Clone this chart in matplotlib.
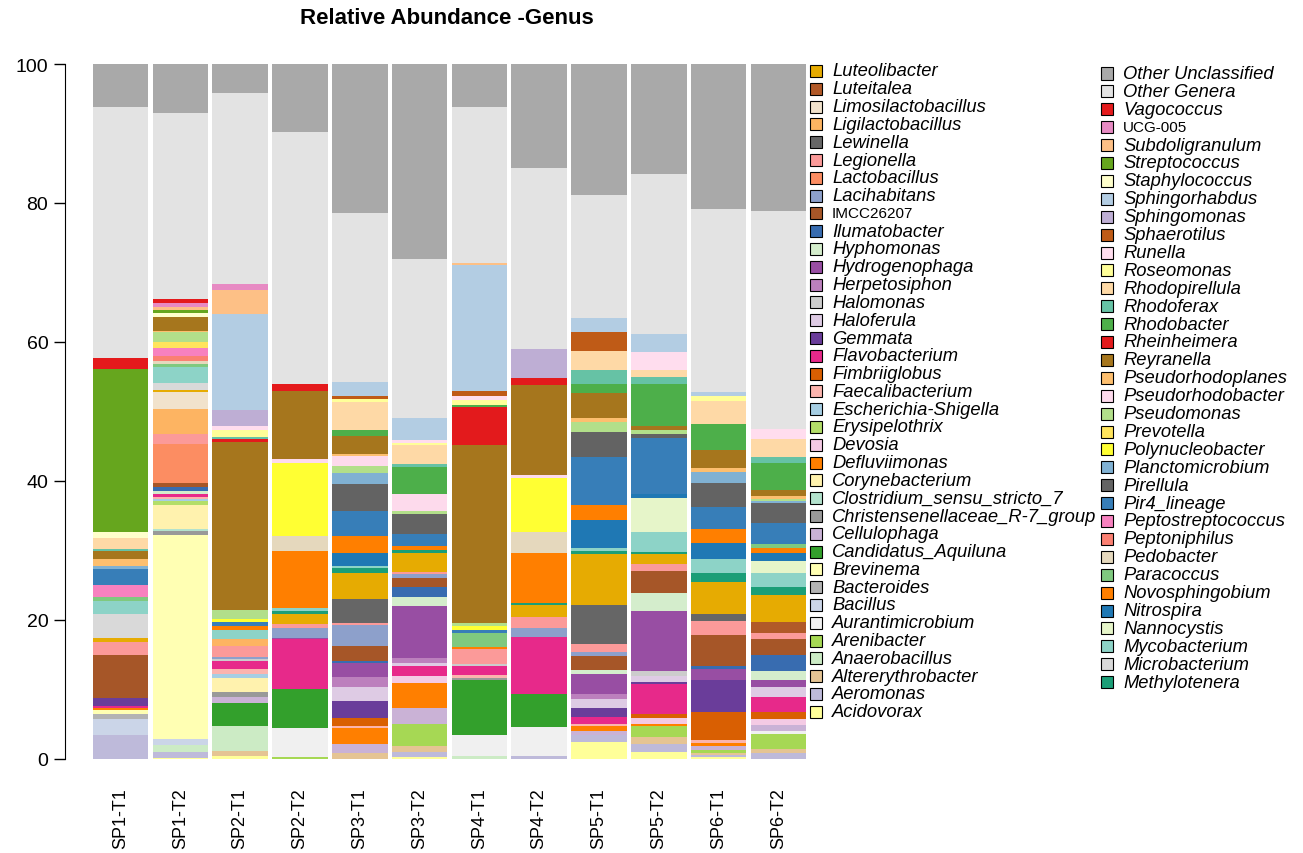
import matplotlib
matplotlib.use("Agg")
import numpy as np
import matplotlib.pyplot as plt
from matplotlib.patches import Rectangle

plt.rcParams['font.family'] = ['Liberation Sans', 'DejaVu Sans']

# genera, bottom of the stack first
genera = ["Acidovorax", "Aeromonas", "Altererythrobacter", "Anaerobacillus", "Arenibacter",
          "Aurantimicrobium", "Bacillus", "Bacteroides", "Brevinema", "Candidatus_Aquiluna",
          "Cellulophaga", "Christensenellaceae_R-7_group", "Clostridium_sensu_stricto_7",
          "Corynebacterium", "Defluviimonas", "Devosia", "Erysipelothrix", "Escherichia-Shigella",
          "Faecalibacterium", "Fimbriiglobus", "Flavobacterium", "Gemmata", "Haloferula",
          "Halomonas", "Herpetosiphon", "Hydrogenophaga", "Hyphomonas", "Ilumatobacter",
          "IMCC26207", "Lacihabitans", "Lactobacillus", "Legionella", "Lewinella",
          "Ligilactobacillus", "Limosilactobacillus", "Luteitalea", "Luteolibacter",
          "Methylotenera", "Microbacterium", "Mycobacterium", "Nannocystis", "Nitrospira",
          "Novosphingobium", "Paracoccus", "Pedobacter", "Peptoniphilus", "Peptostreptococcus",
          "Pir4_lineage", "Pirellula", "Planctomicrobium", "Polynucleobacter", "Prevotella",
          "Pseudomonas", "Pseudorhodobacter", "Pseudorhodoplanes", "Reyranella", "Rheinheimera",
          "Rhodobacter", "Rhodoferax", "Rhodopirellula", "Roseomonas", "Runella", "Sphaerotilus",
          "Sphingomonas", "Sphingorhabdus", "Staphylococcus", "Streptococcus", "Subdoligranulum",
          "UCG-005", "Vagococcus", "Other Genera", "Other Unclassified"]

colors = ["#FFFF99", "#BEBADA", "#E5C494", "#CCEBC5", "#A6D854",
          "#F0F0F0", "#CBD5E8", "#B3B3B3", "#FFFFB3", "#33A02C",
          "#CAB2D6", "#999999", "#B3E2CD",
          "#FFF2AE", "#FF7F00", "#F4CAE4", "#B3DE69", "#A6CEE3",
          "#FBB4AE", "#D95F02", "#E7298A", "#6A3D9A", "#DECBE4",
          "#CCCCCC", "#BC80BD", "#984EA3", "#D4EDCC", "#386CB0",
          "#A65628", "#8DA0CB", "#FC8D62", "#FB9A99", "#666666",
          "#FDB462", "#F1E2CC", "#B15928", "#E6AB02",
          "#1B9E77", "#D9D9D9", "#8DD3C7", "#E6F5C9", "#1F78B4",
          "#FF7F00", "#7FC97F", "#E5D8BD", "#FB8072", "#F781BF",
          "#377EB8", "#636363", "#80B1D3", "#FFFF33", "#FFE45C",
          "#B2DF8A", "#FDDAEC", "#FDBF6F", "#A6761D", "#E31A1C",
          "#4DAF4A", "#66C2A5", "#FED9A6", "#FFFF99", "#FFDDEE", "#BF5B17",
          "#BEAED4", "#B3CDE3", "#FFFFCC", "#66A61E", "#FDC086",
          "#E78AC3", "#E41A1C", "#E3E3E3", "#A9A9A9"]

samples = ["SP1-T1", "SP1-T2", "SP2-T1", "SP2-T2", "SP3-T1", "SP3-T2",
           "SP4-T1", "SP4-T2", "SP5-T1", "SP5-T2", "SP6-T1", "SP6-T2"]

# relative abundance (%) per sample, only non-zero genera
sp1_t1 = {"Aeromonas": 3.4, "Bacillus": 2.3, "Bacteroides": 0.8, "Brevinema": 0.6,
          "Defluviimonas": 0.2, "Flavobacterium": 0.3, "Gemmata": 1.2, "IMCC26207": 6.1,
          "Legionella": 2.0, "Luteolibacter": 0.5, "Microbacterium": 3.4, "Mycobacterium": 2.0,
          "Paracoccus": 0.5, "Peptostreptococcus": 1.8, "Pir4_lineage": 2.3,
          "Planctomicrobium": 0.4, "Pseudorhodoplanes": 1.0, "Reyranella": 1.2,
          "Rhodoferax": 0.2, "Rhodopirellula": 1.6, "Staphylococcus": 0.9,
          "Streptococcus": 23.4, "Vagococcus": 1.6, "Other Genera": 36.1,
          "Other Unclassified": 6.2}
sp1_t2 = {"Acidovorax": 0.2, "Aeromonas": 0.8, "Anaerobacillus": 1.0, "Bacillus": 0.9,
          "Brevinema": 29.4, "Christensenellaceae_R-7_group": 0.5,
          "Clostridium_sensu_stricto_7": 0.3, "Corynebacterium": 3.4, "Erysipelothrix": 0.6,
          "Escherichia-Shigella": 0.3, "Faecalibacterium": 0.3, "Flavobacterium": 0.5,
          "Hyphomonas": 0.4, "Ilumatobacter": 0.5, "IMCC26207": 0.6, "Lactobacillus": 5.6,
          "Legionella": 1.4, "Ligilactobacillus": 3.7, "Limosilactobacillus": 2.4,
          "Luteolibacter": 0.3, "Microbacterium": 1.0, "Mycobacterium": 2.3, "Paracoccus": 0.4,
          "Pedobacter": 0.4, "Peptoniphilus": 0.8, "Peptostreptococcus": 1.1, "Prevotella": 0.9,
          "Pseudomonas": 1.4, "Pseudorhodoplanes": 0.2, "Reyranella": 2.0,
          "Staphylococcus": 0.6, "Streptococcus": 0.4, "Subdoligranulum": 0.5, "UCG-005": 0.5,
          "Vagococcus": 0.6, "Other Genera": 26.8, "Other Unclassified": 7.0}
sp2_t1 = {"Acidovorax": 0.5, "Altererythrobacter": 0.6, "Anaerobacillus": 3.7,
          "Candidatus_Aquiluna": 3.3, "Cellulophaga": 0.8, "Christensenellaceae_R-7_group": 0.7,
          "Corynebacterium": 2.0, "Escherichia-Shigella": 0.6, "Faecalibacterium": 0.8,
          "Flavobacterium": 1.1, "Halomonas": 0.3, "Lacihabitans": 0.3, "Legionella": 1.5,
          "Ligilactobacillus": 1.0, "Mycobacterium": 1.3, "Novosphingobium": 0.7,
          "Pir4_lineage": 0.5, "Polynucleobacter": 0.5, "Pseudomonas": 1.3, "Reyranella": 24.1,
          "Rheinheimera": 0.5, "Rhodoferax": 0.3, "Roseomonas": 1.0, "Runella": 0.5,
          "Sphingomonas": 2.3, "Sphingorhabdus": 13.9, "Subdoligranulum": 3.4, "UCG-005": 0.8,
          "Other Genera": 27.5, "Other Unclassified": 4.2}
sp2_t2 = {"Arenibacter": 0.3, "Aurantimicrobium": 4.1, "Candidatus_Aquiluna": 5.7,
          "Flavobacterium": 7.1, "Hydrogenophaga": 0.2, "Lacihabitans": 1.5, "Legionella": 0.5,
          "Luteolibacter": 1.5, "Methylotenera": 0.4, "Mycobacterium": 0.4,
          "Novosphingobium": 8.2, "Pedobacter": 2.2, "Polynucleobacter": 10.5,
          "Pseudorhodobacter": 0.5, "Reyranella": 9.8, "Vagococcus": 1.0,
          "Other Genera": 36.3, "Other Unclassified": 9.8}
sp3_t1 = {"Altererythrobacter": 0.8, "Cellulophaga": 1.4, "Defluviimonas": 2.2,
          "Faecalibacterium": 0.3, "Fimbriiglobus": 1.2, "Gemmata": 2.4, "Haloferula": 2.0,
          "Herpetosiphon": 1.5, "Hydrogenophaga": 2.0, "Ilumatobacter": 0.3, "IMCC26207": 2.2,
          "Lacihabitans": 3.0, "Legionella": 0.3, "Lewinella": 3.4, "Luteolibacter": 3.7,
          "Methylotenera": 0.8, "Mycobacterium": 0.2, "Nitrospira": 2.0, "Novosphingobium": 2.4,
          "Pir4_lineage": 3.6, "Pirellula": 3.9, "Planctomicrobium": 1.6, "Pseudomonas": 0.9,
          "Pseudorhodobacter": 1.5, "Pseudorhodoplanes": 0.3, "Reyranella": 2.6,
          "Rhodobacter": 0.9, "Rhodopirellula": 3.9, "Roseomonas": 0.5, "Sphaerotilus": 0.4,
          "Sphingorhabdus": 2.0, "Other Genera": 24.4, "Other Unclassified": 21.4}
sp3_t2 = {"Acidovorax": 0.3, "Aeromonas": 0.7, "Altererythrobacter": 0.8, "Arenibacter": 3.3,
          "Cellulophaga": 2.3, "Defluviimonas": 3.5, "Devosia": 1.1, "Flavobacterium": 1.4,
          "Haloferula": 0.4, "Herpetosiphon": 0.8, "Hydrogenophaga": 7.4, "Hyphomonas": 1.3,
          "Ilumatobacter": 1.4, "IMCC26207": 1.3, "Lacihabitans": 0.6, "Legionella": 0.3,
          "Luteolibacter": 2.7, "Methylotenera": 0.5, "Novosphingobium": 0.5,
          "Pir4_lineage": 1.8, "Pirellula": 2.9, "Pseudomonas": 0.4, "Pseudorhodobacter": 2.4,
          "Rhodobacter": 3.9, "Rhodoferax": 0.5, "Rhodopirellula": 2.7, "Roseomonas": 0.3,
          "Runella": 0.4, "Sphingorhabdus": 3.1, "Other Genera": 22.9,
          "Other Unclassified": 28.1}
sp4_t1 = {"Anaerobacillus": 0.4, "Aurantimicrobium": 3.1, "Candidatus_Aquiluna": 7.8,
          "Christensenellaceae_R-7_group": 0.3, "Faecalibacterium": 0.5, "Flavobacterium": 1.3,
          "Halomonas": 0.3, "Legionella": 2.1, "Novosphingobium": 0.3, "Paracoccus": 2.0,
          "Pir4_lineage": 0.5, "Polynucleobacter": 0.5, "Pseudomonas": 0.5, "Reyranella": 25.6,
          "Rheinheimera": 5.4, "Rhodobacter": 0.3, "Roseomonas": 0.8, "Runella": 0.6,
          "Sphaerotilus": 0.7, "Sphingorhabdus": 18.1, "Subdoligranulum": 0.3,
          "Other Genera": 22.4, "Other Unclassified": 6.2}
sp4_t2 = {"Aeromonas": 0.5, "Aurantimicrobium": 4.1, "Candidatus_Aquiluna": 4.7,
          "Flavobacterium": 8.3, "Lacihabitans": 1.3, "Legionella": 1.5, "Luteolibacter": 1.8,
          "Methylotenera": 0.3, "Novosphingobium": 7.1, "Pedobacter": 3.0,
          "Polynucleobacter": 7.8, "Pseudorhodobacter": 0.4, "Reyranella": 13.0,
          "Rheinheimera": 1.0, "Sphingomonas": 4.2, "Other Genera": 26.0,
          "Other Unclassified": 15.0}
sp5_t1 = {"Acidovorax": 2.4, "Aeromonas": 1.1, "Cellulophaga": 0.5, "Defluviimonas": 0.7,
          "Faecalibacterium": 0.4, "Flavobacterium": 0.9, "Gemmata": 1.4, "Haloferula": 1.3,
          "Herpetosiphon": 0.7, "Hydrogenophaga": 2.9, "Hyphomonas": 0.5, "IMCC26207": 2.0,
          "Lacihabitans": 0.6, "Legionella": 1.2, "Lewinella": 5.6, "Luteolibacter": 7.3,
          "Methylotenera": 0.5, "Mycobacterium": 0.3, "Nitrospira": 4.1, "Novosphingobium": 2.1,
          "Pir4_lineage": 7.0, "Pirellula": 3.5, "Pseudomonas": 1.5, "Pseudorhodoplanes": 0.5,
          "Reyranella": 3.6, "Rhodobacter": 1.4, "Rhodoferax": 2.0, "Rhodopirellula": 2.7,
          "Sphaerotilus": 2.7, "Sphingorhabdus": 2.0, "Other Genera": 17.8,
          "Other Unclassified": 18.8}
sp5_t2 = {"Acidovorax": 1.0, "Aeromonas": 1.1, "Altererythrobacter": 1.1, "Arenibacter": 1.5,
          "Defluviimonas": 0.4, "Devosia": 0.8, "Fimbriiglobus": 0.6, "Flavobacterium": 4.3,
          "Gemmata": 0.3, "Haloferula": 0.8, "Halomonas": 0.8, "Hydrogenophaga": 8.6,
          "Hyphomonas": 2.6, "IMCC26207": 3.2, "Legionella": 1.0, "Luteolibacter": 1.4,
          "Methylotenera": 0.3, "Mycobacterium": 2.9, "Nannocystis": 4.9, "Nitrospira": 0.5,
          "Pir4_lineage": 8.1, "Pirellula": 0.5, "Pseudomonas": 0.7, "Reyranella": 0.5,
          "Rhodobacter": 6.0, "Rhodoferax": 1.0, "Rhodopirellula": 1.0, "Runella": 2.6,
          "Sphingorhabdus": 2.6, "Other Genera": 23.1, "Other Unclassified": 15.8}
sp6_t1 = {"Acidovorax": 0.3, "Aeromonas": 0.3, "Altererythrobacter": 0.2, "Arenibacter": 0.5,
          "Cellulophaga": 0.6, "Defluviimonas": 0.4, "Faecalibacterium": 0.4,
          "Fimbriiglobus": 4.0, "Gemmata": 4.7, "Hydrogenophaga": 1.6, "Ilumatobacter": 0.4,
          "IMCC26207": 4.4, "Legionella": 2.0, "Lewinella": 1.0, "Luteolibacter": 4.7,
          "Methylotenera": 1.3, "Mycobacterium": 2.0, "Nitrospira": 2.3, "Novosphingobium": 2.0,
          "Pir4_lineage": 3.1, "Pirellula": 3.5, "Planctomicrobium": 1.6,
          "Pseudorhodoplanes": 0.5, "Reyranella": 2.6, "Rhodobacter": 3.8,
          "Rhodopirellula": 3.3, "Roseomonas": 0.8, "Sphingorhabdus": 0.5,
          "Other Genera": 26.4, "Other Unclassified": 20.8}
sp6_t2 = {"Aeromonas": 0.8, "Altererythrobacter": 0.6, "Aurantimicrobium": 0.5,
          "Arenibacter": 2.2, "Cellulophaga": 0.8, "Devosia": 0.8, "Fimbriiglobus": 1.1,
          "Flavobacterium": 2.1, "Haloferula": 1.5, "Hydrogenophaga": 1.0, "Hyphomonas": 1.3,
          "Ilumatobacter": 2.3, "IMCC26207": 2.3, "Legionella": 0.8, "Luteitalea": 1.6,
          "Luteolibacter": 3.9, "Methylotenera": 1.1, "Mycobacterium": 2.1, "Nannocystis": 1.7,
          "Nitrospira": 1.2, "Novosphingobium": 0.6, "Paracoccus": 0.7, "Pir4_lineage": 2.9,
          "Pirellula": 2.9, "Planctomicrobium": 0.3, "Pseudomonas": 0.3,
          "Pseudorhodoplanes": 0.4, "Reyranella": 0.9, "Rhodobacter": 3.9, "Rhodoferax": 0.8,
          "Rhodopirellula": 2.6, "Runella": 1.5, "Other Genera": 31.3,
          "Other Unclassified": 21.2}

sample_data = [sp1_t1, sp1_t2, sp2_t1, sp2_t2, sp3_t1, sp3_t2,
               sp4_t1, sp4_t2, sp5_t1, sp5_t2, sp6_t1, sp6_t2]

# matrix genera x samples
abund = np.array([[d.get(g, 0.0) for d in sample_data] for g in genera])

W, H = 1303, 854
fig = plt.figure(figsize=(W / 100, H / 100), dpi=100)
ax = fig.add_axes([65 / W, 1 - 760 / H, (810 - 65) / W, (760 - 65) / H])

x = np.arange(len(samples))
bottom = np.zeros(len(samples))
for g, c, vals in zip(genera, colors, abund):
    ax.bar(x, vals, bottom=bottom, width=0.93, color=c, linewidth=0)
    bottom += vals

ax.set_xlim(-0.93, 11.53)
ax.set_ylim(0, 100)
ax.set_yticks([0, 20, 40, 60, 80, 100])
ax.set_xticks(x)
ax.set_xticklabels(samples, rotation=90, fontsize=13)
ax.tick_params(axis='x', length=0, pad=20)
ax.tick_params(axis='y', length=8, width=1, labelsize=14, pad=4)
for s in ['top', 'right', 'bottom']:
    ax.spines[s].set_visible(False)

fig.text(447 / W, 1 - 18 / H, "Relative Abundance -Genus", ha='center', va='center',
         fontsize=16, fontweight='bold')

# legend: two columns, top of the stack first
def legend_column(idx_list, x_box, x_text, y0, step):
    for k, i in enumerate(idx_list):
        yc = y0 + k * step
        fig.add_artist(Rectangle((x_box / W, 1 - (yc + 6) / H), 12 / W, 12 / H,
                                 transform=fig.transFigure, facecolor=colors[i],
                                 edgecolor='black', linewidth=0.8))
        name = genera[i]
        plain = name in ("IMCC26207", "UCG-005")
        fig.text(x_text / W, 1 - yc / H, name, ha='left', va='center',
                 fontsize=11 if plain else 13.2, style='normal' if plain else 'italic')

legend_column(list(range(36, -1, -1)), 810, 832, 72, 17.8)
legend_column(list(range(71, 36, -1)), 1101, 1123, 74.5, 17.9)

fig.savefig("out.png", dpi=100)
